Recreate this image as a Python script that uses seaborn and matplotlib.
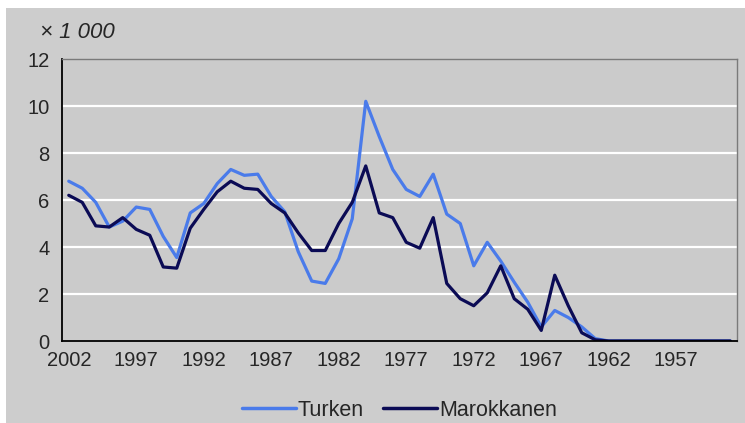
import matplotlib
matplotlib.use("Agg")
import matplotlib.pyplot as plt
import seaborn as sns
import pandas as pd
import numpy as np
from matplotlib.patches import Rectangle

years = list(range(2002, 1952, -1))
turken = [6.8, 6.5, 5.9, 4.85, 5.1, 5.7, 5.6, 4.45, 3.55, 5.45,
          5.85, 6.7, 7.3, 7.05, 7.1, 6.15, 5.5, 3.8, 2.55, 2.45,
          3.5, 5.2, 10.2, 8.7, 7.3, 6.45, 6.15, 7.1, 5.4, 5.0,
          3.2, 4.2, 3.4, 2.5, 1.65, 0.6, 1.3, 1.0, 0.6, 0.1,
          0, 0, 0, 0, 0, 0, 0, 0, 0, 0]
marokkanen = [6.2, 5.9, 4.9, 4.85, 5.25, 4.75, 4.5, 3.15, 3.1, 4.8,
              5.6, 6.35, 6.8, 6.5, 6.45, 5.85, 5.45, 4.6, 3.85, 3.85,
              5.0, 5.9, 7.45, 5.45, 5.25, 4.2, 3.95, 5.25, 2.45, 1.8,
              1.5, 2.05, 3.2, 1.8, 1.35, 0.45, 2.8, 1.5, 0.35, 0.05,
              0, 0, 0, 0, 0, 0, 0, 0, 0, 0]
series_names = ["Turken", "Marokkanen"]
colors = ["#4a7bea", "#0b0b55"]
yticks = [0, 2, 4, 6, 8, 10, 12]
xlabel_years = [2002, 1997, 1992, 1987, 1982, 1977, 1972, 1967, 1962, 1957]

df = pd.DataFrame({
    "jaar": years * 2,
    "waarde": turken + marokkanen,
    "groep": [series_names[0]] * len(years) + [series_names[1]] * len(years),
})

sns.set_style("white")
plt.rcParams["font.family"] = ["Liberation Sans", "DejaVu Sans"]

fig = plt.figure(figsize=(7.45, 4.23), dpi=100)
fig.patch.set_facecolor("white")
fig.patches.append(Rectangle((6 / 745, 0), 1, 1 - 8 / 423, transform=fig.transFigure,
                             facecolor="#cdcdcd", edgecolor="none", zorder=-10))
ax = fig.add_axes([62 / 745, 1 - 341 / 423, (737 - 62) / 745, (341 - 59) / 423])
ax.set_facecolor("#cbcbcb")

sns.lineplot(data=df, x="jaar", y="waarde", hue="groep", palette=colors,
             hue_order=series_names, linewidth=2.3, ax=ax, legend=True)

fs = 14.5
ax.set_xlim(2002.5, 1952.5)
ax.set_ylim(0, 12)
ax.set_yticks(yticks)
ax.set_yticklabels([str(v) for v in yticks], fontsize=fs)
for v in yticks[1:-1]:
    ax.axhline(v, color="white", lw=1.6, zorder=0)

ax.set_xticks(np.arange(2002.5, 1952.0, -1))
ax.set_xticklabels([])
ax.set_xticks(xlabel_years, minor=True)
ax.set_xticklabels([str(y) for y in xlabel_years], minor=True, fontsize=fs)
ax.tick_params(axis="x", which="major", length=5, width=1, color="black", direction="out")
ax.tick_params(axis="x", which="minor", length=0, pad=7)
ax.tick_params(axis="y", length=5, width=1, color="black", direction="out", pad=4)
ax.set_xlabel("")
ax.set_ylabel("")

for side in ["left", "bottom"]:
    ax.spines[side].set_color("black")
    ax.spines[side].set_linewidth(1.3)
for side in ["top", "right"]:
    ax.spines[side].set_color("#7a7a7a")
    ax.spines[side].set_linewidth(1.0)

fig.text(40 / 745, 1 - 33 / 423, "× 1 000", fontsize=16, style="italic",
         va="center", ha="left")

leg = ax.legend(loc="center", bbox_to_anchor=(0.5, (341 - 410) / (341 - 59)),
                ncol=2, frameon=False, fontsize=fs + 1, handlelength=2.5,
                handletextpad=0.1, columnspacing=0.9)
for line in leg.get_lines():
    line.set_linewidth(2.5)

fig.savefig("out.png", dpi=100)
